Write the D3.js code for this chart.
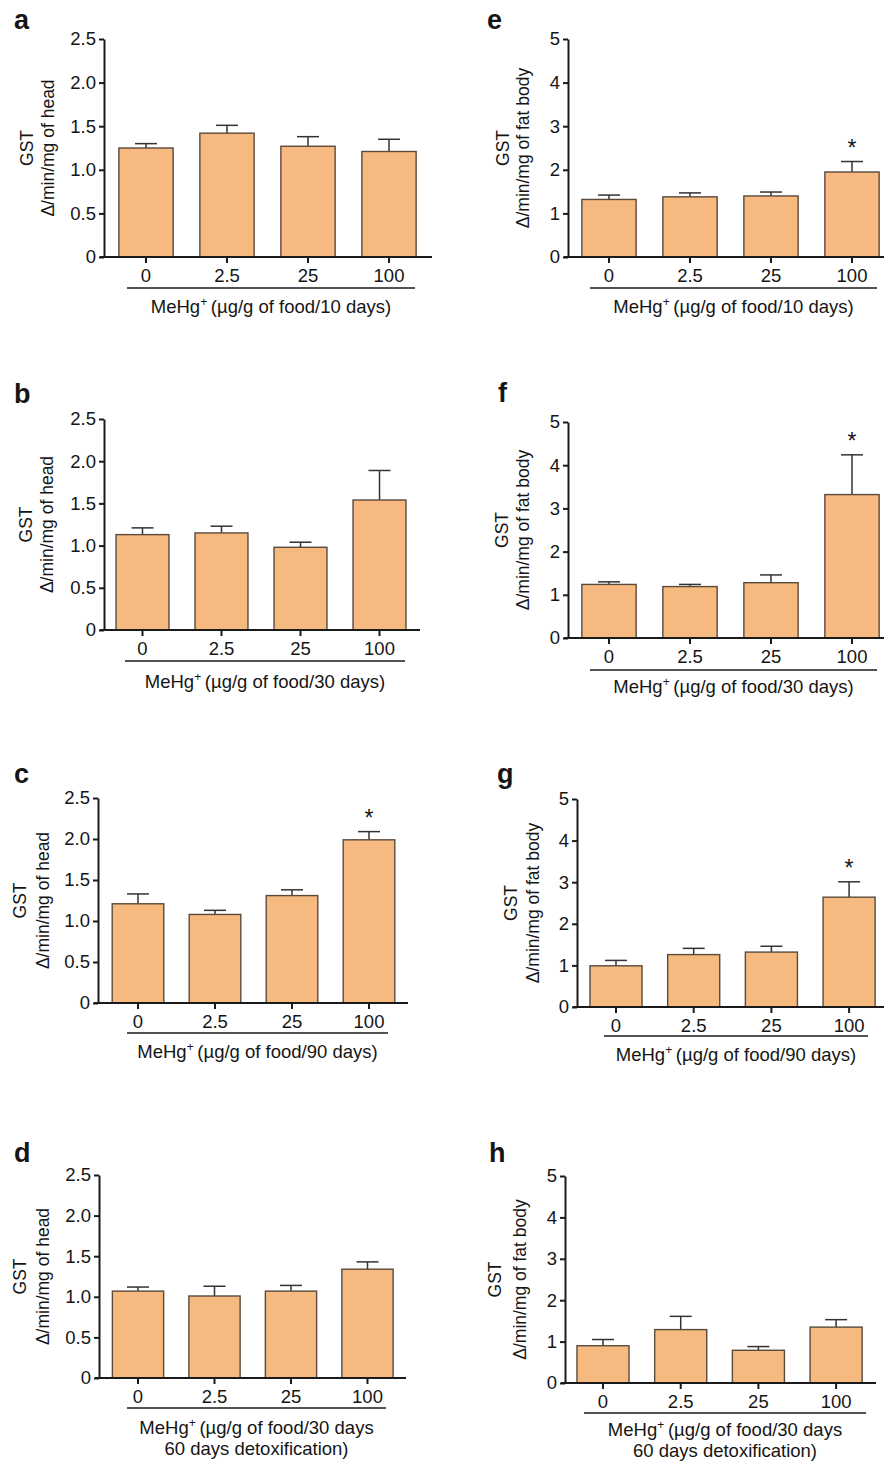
<!DOCTYPE html>
<html>
<head>
<meta charset="utf-8">
<script src="https://cdn.jsdelivr.net/npm/d3@7"></script>
<style>
  body { margin: 0; background: #fff; }
  svg { display: block; }
  text { font-family: "Liberation Sans", Arial, sans-serif; fill: #151515; }
</style>
</head>
<body>
<div id="chart"></div>
<script>
// doses on the x axis
var doses = ["0", "2.5", "25", "100"];
var headTicks = [0, 0.5, 1, 1.5, 2, 2.5];
var fatTicks = [0, 1, 2, 3, 4, 5];

// head (a-d)
var meanA = [1.25, 1.42, 1.27, 1.21], semA = [0.05, 0.09, 0.11, 0.14];
var meanB = [1.13, 1.15, 0.98, 1.54], semB = [0.08, 0.08, 0.06, 0.35];
var meanC = [1.21, 1.08, 1.31, 1.99], semC = [0.12, 0.05, 0.07, 0.10];
var meanD = [1.07, 1.01, 1.07, 1.34], semD = [0.05, 0.12, 0.07, 0.09];
// fat body (e-h)
var meanE = [1.32, 1.38, 1.40, 1.95], semE = [0.10, 0.09, 0.09, 0.24];
var meanF = [1.24, 1.19, 1.28, 3.32], semF = [0.06, 0.05, 0.18, 0.92];
var meanG = [0.99, 1.26, 1.32, 2.64], semG = [0.13, 0.15, 0.14, 0.37];
var meanH = [0.90, 1.29, 0.79, 1.35], semH = [0.15, 0.32, 0.09, 0.18];

// significance marks
var starC = [0, 0, 0, 1];
var starE = [0, 0, 0, 1];
var starF = [0, 0, 0, 1];
var starG = [0, 0, 0, 1];
var none = [0, 0, 0, 0];

var headLabel = "\u0394/min/mg of head";
var fatLabel = "\u0394/min/mg of fat body";
var t10 = ["(\u00b5g/g of food/10 days)"];
var t30 = ["(\u00b5g/g of food/30 days)"];
var t90 = ["(\u00b5g/g of food/90 days)"];
var tDetox = ["(\u00b5g/g of food/30 days", "60 days detoxification)"];

var svg = d3.select("#chart").append("svg")
    .attr("width", 884)
    .attr("height", 1461);

// layout per panel (pixels)
var panels = [
  {L: "a", lx: 14, ly: 29, mean: meanA, sem: semA, star: none, max: 2.5, ticks: headTicks, lab: headLabel,
   ax: 104, top: 39, zero: 257, c0: 146, step: 81, xEnd: 432, ulY: 288, ul: [127, 415], tY: 313, title: t10, gx: 27, dx: 48},
  {L: "b", lx: 14, ly: 403, mean: meanB, sem: semB, star: none, max: 2.5, ticks: headTicks, lab: headLabel,
   ax: 104, top: 419, zero: 630, c0: 142.5, step: 79, xEnd: 420, ulY: 661, ul: [125, 405], tY: 688, title: t30, gx: 26, dx: 47},
  {L: "c", lx: 14, ly: 783, mean: meanC, sem: semC, star: starC, max: 2.5, ticks: headTicks, lab: headLabel,
   ax: 98, top: 798, zero: 1003, c0: 138, step: 77, xEnd: 408, ulY: 1033, ul: [127, 388], tY: 1058, title: t90, gx: 20, dx: 43},
  {L: "d", lx: 14, ly: 1162, mean: meanD, sem: semD, star: none, max: 2.5, ticks: headTicks, lab: headLabel,
   ax: 99, top: 1175, zero: 1378, c0: 138, step: 76.5, xEnd: 406, ulY: 1408, ul: [127, 386], tY: 1434, title: tDetox, gx: 20, dx: 43},
  {L: "e", lx: 487, ly: 29, mean: meanE, sem: semE, star: starE, max: 5, ticks: fatTicks, lab: fatLabel,
   ax: 568, top: 39, zero: 257, c0: 609, step: 81, xEnd: 884, ulY: 288, ul: [590, 877], tY: 313, title: t10, gx: 503, dx: 523},
  {L: "f", lx: 498, ly: 402, mean: meanF, sem: semF, star: starF, max: 5, ticks: fatTicks, lab: fatLabel,
   ax: 568, top: 422, zero: 638, c0: 609, step: 81, xEnd: 884, ulY: 670, ul: [590, 877], tY: 693, title: t30, gx: 502, dx: 523},
  {L: "g", lx: 497, ly: 783, mean: meanG, sem: semG, star: starG, max: 5, ticks: fatTicks, lab: fatLabel,
   ax: 577, top: 799, zero: 1007, c0: 616, step: 77.7, xEnd: 884, ulY: 1036, ul: [604, 868], tY: 1061, title: t90, gx: 511, dx: 533},
  {L: "h", lx: 489, ly: 1162, mean: meanH, sem: semH, star: none, max: 5, ticks: fatTicks, lab: fatLabel,
   ax: 565, top: 1176, zero: 1383, c0: 603, step: 77.7, xEnd: 876, ulY: 1413, ul: [584, 866], tY: 1436, title: tDetox, gx: 495, dx: 520}
];

var ink = "#1a1a1a";

panels.forEach(function(p) {
  var g = svg.append("g");

  var y = d3.scaleLinear().domain([0, p.max]).range([p.zero, p.top]);
  var x = d3.scaleBand().domain(doses)
      .range([p.c0 - p.step / 2, p.c0 + 3.5 * p.step])
      .paddingInner(0.33).paddingOuter(0.165);

  var rows = doses.map(function(d, i) {
    return {dose: d, m: p.mean[i], s: p.sem[i], star: p.star[i]};
  });

  // error bars (upper only)
  var eb = g.selectAll(".err").data(rows).enter().append("g");
  eb.append("line")
      .attr("x1", function(d) { return x(d.dose) + x.bandwidth() / 2; })
      .attr("x2", function(d) { return x(d.dose) + x.bandwidth() / 2; })
      .attr("y1", function(d) { return y(d.m); })
      .attr("y2", function(d) { return y(d.m + d.s); })
      .attr("stroke", "#333").attr("stroke-width", 1.5);
  eb.append("line")
      .attr("x1", function(d) { return x(d.dose) + x.bandwidth() / 2 - 11; })
      .attr("x2", function(d) { return x(d.dose) + x.bandwidth() / 2 + 11; })
      .attr("y1", function(d) { return y(d.m + d.s); })
      .attr("y2", function(d) { return y(d.m + d.s); })
      .attr("stroke", "#333").attr("stroke-width", 1.5);

  g.selectAll(".bar").data(rows).enter().append("rect")
      .attr("x", function(d) { return x(d.dose); })
      .attr("width", x.bandwidth())
      .attr("y", function(d) { return y(d.m); })
      .attr("height", function(d) { return p.zero - y(d.m); })
      .attr("fill", "#f6ba80")
      .attr("stroke", "#5a4a3c")
      .attr("stroke-width", 1.4);

  g.selectAll(".star").data(rows.filter(function(d) { return d.star; })).enter().append("text")
      .attr("x", function(d) { return x(d.dose) + x.bandwidth() / 2; })
      .attr("y", function(d) { return y(d.m + d.s) - 6; })
      .attr("text-anchor", "middle")
      .style("font-size", "23px")
      .text("*");

  // y axis
  var fmt = function(v) { return v === 0 ? "0" : (p.max > 3 ? d3.format("d")(v) : d3.format(".1f")(v)); };
  var ya = g.append("g")
      .attr("transform", "translate(" + p.ax + ",0)")
      .call(d3.axisLeft(y).tickValues(p.ticks).tickFormat(fmt).tickSize(5).tickSizeOuter(0).tickPadding(3));
  ya.selectAll("text").style("font-size", "18.5px").attr("fill", ink);

  // x axis
  var xa = g.append("g")
      .attr("transform", "translate(0," + p.zero + ")")
      .call(d3.axisBottom(x).tickSize(6).tickSizeOuter(0).tickPadding(6));
  xa.select(".domain").remove();
  xa.selectAll("text").style("font-size", "18.5px").attr("fill", ink);
  xa.append("line")
      .attr("x1", p.ax - 4).attr("x2", p.xEnd)
      .attr("stroke", ink);

  [ya, xa].forEach(function(a) {
    a.selectAll("path, line").attr("stroke", ink).attr("stroke-width", 2);
  });

  // underline and dose title
  g.append("line")
      .attr("x1", p.ul[0]).attr("x2", p.ul[1])
      .attr("y1", p.ulY).attr("y2", p.ulY)
      .attr("stroke", ink).attr("stroke-width", 1.6);

  var cx = (p.ul[0] + p.ul[1]) / 2;
  p.title.forEach(function(line, i) {
    var t = g.append("text")
        .attr("x", cx)
        .attr("y", p.tY + i * 20.5)
        .attr("text-anchor", "middle")
        .style("font-size", "18.5px");
    if (i === 0) {
      t.append("tspan").text("MeHg");
      t.append("tspan").attr("baseline-shift", "super").style("font-size", "12px").text("+");
      t.append("tspan").text("\u2009" + line);
    } else {
      t.text(line);
    }
  });

  // y label
  var midY = (p.top + p.zero) / 2;
  [[p.gx, "GST"], [p.dx, p.lab]].forEach(function(l) {
    g.append("text")
        .attr("transform", "translate(" + l[0] + "," + midY + ") rotate(-90)")
        .attr("text-anchor", "middle")
        .attr("dominant-baseline", "central")
        .style("font-size", "17.5px")
        .text(l[1]);
  });

  // panel letter
  g.append("text")
      .attr("x", p.lx).attr("y", p.ly)
      .style("font-size", "27px")
      .style("font-weight", "bold")
      .text(p.L);
});
</script>
</body>
</html>
